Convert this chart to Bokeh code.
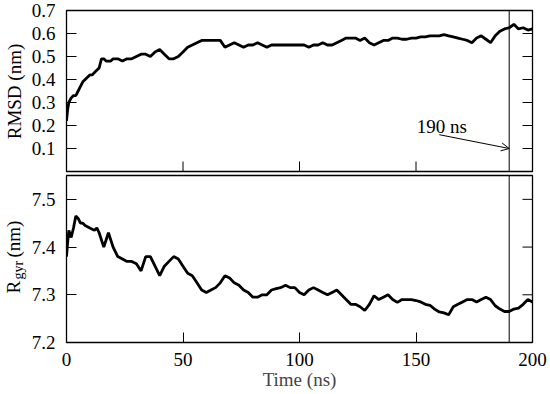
import math
from bokeh.plotting import figure
from bokeh.models import Range1d, FixedTicker, Span, Label, Arrow, OpenHead
from bokeh.layouts import column, row
from bokeh.embed import file_html
from bokeh.resources import INLINE

# ---------------- data ----------------
time_rmsd = [0, 0.5, 1, 2, 3, 4, 5, 6, 7, 8, 9, 10, 11, 12, 13, 14, 15, 16, 17, 18, 19, 20,
             22, 24, 26, 28, 30, 32, 34, 36, 38, 40, 42, 44, 46, 48, 50, 52, 54, 56, 58, 60,
             62, 64, 66, 68, 70, 72, 74, 76, 78, 80, 82, 84, 86, 88, 90, 92, 94, 96, 98, 100,
             102, 104, 106, 108, 110, 112, 114, 116, 118, 120, 122, 124, 126, 128, 130, 132,
             134, 136, 138, 140, 142, 144, 146, 148, 150, 152, 154, 156, 158, 160, 162, 164,
             166, 168, 170, 172, 174, 176, 178, 180, 182, 184, 186, 188, 190, 192, 194, 196,
             198, 200]
rmsd = [0.22, 0.27, 0.30, 0.32, 0.33, 0.33, 0.35, 0.37, 0.39, 0.40, 0.41, 0.42, 0.42, 0.43,
        0.44, 0.45, 0.49, 0.49, 0.48, 0.48, 0.48, 0.49,
        0.49, 0.48, 0.49, 0.49, 0.50, 0.51, 0.51, 0.50, 0.52, 0.53, 0.51, 0.49, 0.49, 0.50,
        0.52, 0.54, 0.55, 0.56, 0.57, 0.57,
        0.57, 0.57, 0.57, 0.54, 0.55, 0.56, 0.55, 0.54, 0.55, 0.55, 0.56, 0.55, 0.54, 0.55,
        0.55, 0.55, 0.55, 0.55, 0.55, 0.55,
        0.55, 0.54, 0.55, 0.55, 0.56, 0.55, 0.55, 0.56, 0.57, 0.58, 0.58, 0.58, 0.57, 0.58,
        0.56, 0.55,
        0.56, 0.57, 0.57, 0.58, 0.58, 0.575, 0.575, 0.58, 0.58, 0.585, 0.585, 0.59, 0.59,
        0.59, 0.595, 0.59,
        0.585, 0.58, 0.575, 0.57, 0.56, 0.58, 0.59, 0.575, 0.56, 0.59, 0.61, 0.62, 0.625,
        0.64, 0.62, 0.625,
        0.615, 0.62]

time_rgyr = [0, 0.5, 1, 2, 3, 4, 5, 6, 7, 8, 10, 12, 13, 14, 16, 18, 20, 22, 24, 26, 28, 30,
             32, 34, 36, 38, 40, 42, 44, 46, 48, 50, 52, 54, 56, 58, 60, 62, 64, 66, 68, 70,
             72, 74, 76, 78, 80, 82, 84, 86, 88, 90, 92, 94, 96, 98, 100, 102, 104, 106, 108,
             110, 112, 114, 116, 118, 120, 122, 124, 126, 128, 130, 132, 134, 136, 138, 140,
             142, 144, 146, 148, 150, 152, 154, 156, 158, 160, 162, 164, 166, 168, 170, 172,
             174, 176, 178, 180, 182, 184, 186, 188, 190, 192, 194, 196, 198, 200]
rgyr = [7.38, 7.41, 7.435, 7.42, 7.44, 7.465, 7.46, 7.45, 7.45, 7.445, 7.44, 7.435, 7.44,
        7.43, 7.40, 7.43, 7.40, 7.38, 7.375, 7.37, 7.37, 7.365,
        7.35, 7.38, 7.38, 7.36, 7.34, 7.36, 7.37, 7.38, 7.375, 7.36, 7.345, 7.34, 7.325,
        7.31, 7.305, 7.31, 7.315, 7.325, 7.34, 7.335,
        7.325, 7.32, 7.31, 7.305, 7.295, 7.295, 7.30, 7.30, 7.31, 7.313, 7.315, 7.32, 7.315,
        7.315, 7.305, 7.30, 7.31, 7.315, 7.31,
        7.305, 7.30, 7.305, 7.31, 7.30, 7.29, 7.28, 7.28, 7.275, 7.267, 7.28, 7.298, 7.29,
        7.295, 7.30, 7.29,
        7.284, 7.29, 7.29, 7.29, 7.288, 7.285, 7.28, 7.278, 7.27, 7.264, 7.262, 7.258, 7.275,
        7.28, 7.285, 7.29,
        7.29, 7.285, 7.29, 7.295, 7.29, 7.277, 7.27, 7.265, 7.265, 7.27, 7.272, 7.28, 7.29,
        7.285]

x_ticks = [0, 50, 100, 150, 200]
x_tick_labels = ["0", "50", "100", "150", "200"]
rmsd_ticks = [0.1, 0.2, 0.3, 0.4, 0.5, 0.6, 0.7]
rgyr_ticks = [7.2, 7.3, 7.4, 7.5]
x_lim = (0, 200)
rmsd_lim = (0, 0.7)
rgyr_lim = (7.2, 7.55)
marker_time = 190
marker_text = "190 ns"
rmsd_label = "RMSD (nm)"
rgyr_label_main, rgyr_label_sub, rgyr_label_unit = "R", "gyr", "(nm)"
x_label = "Time (ns)"

FONT = "Liberation Serif"
FS = "19px"
LABEL_W = 28
MAIN_W = 550 - LABEL_W
TICK_LEN = 10


def base_fig(height, ylim, yticks, mb_top, mb_bottom, with_xaxis):
    p = figure(width=MAIN_W, height=height, x_range=Range1d(*x_lim),
               y_range=Range1d(*ylim), output_backend="svg", toolbar_location=None,
               x_axis_location="below" if with_xaxis else None,
               min_border_left=65 - LABEL_W, min_border_right=18,
               min_border_top=mb_top, min_border_bottom=mb_bottom)
    p.grid.visible = False
    p.outline_line_color = "black"
    p.outline_line_width = 1.3
    p.outline_line_alpha = 1
    p.background_fill_color = "white"
    p.border_fill_color = "white"
    axes = list(p.yaxis) + (list(p.xaxis) if with_xaxis else [])
    for ax in axes:
        ax.axis_line_color = None
        ax.major_tick_in = TICK_LEN
        ax.major_tick_out = 0
        ax.major_tick_line_width = 1
        ax.minor_tick_line_color = None
        ax.major_label_text_font = FONT
        ax.major_label_text_font_size = FS
        ax.major_label_text_color = "black"
    p.yaxis.ticker = FixedTicker(ticks=yticks)
    p.yaxis.major_label_standoff = 11
    if with_xaxis:
        p.xaxis.ticker = FixedTicker(ticks=x_ticks)
        p.xaxis.major_label_overrides = {t: s for t, s in zip(x_ticks, x_tick_labels)}
    # mirrored inward ticks on the right edge
    p.ray(x=[x_lim[1]] * len(yticks), y=yticks, length=TICK_LEN, length_units="screen",
          angle=math.pi, line_color="black", line_width=1)
    p.add_layout(Span(location=marker_time, dimension="height", line_color="black",
                      line_width=1))
    return p


# ---------------- top panel: RMSD ----------------
p1 = base_fig(173, rmsd_lim, rmsd_ticks, 10, 2, False)
# inward ticks on the bottom edge of the upper panel
p1.ray(x=x_ticks, y=[rmsd_lim[0]] * len(x_ticks), length=TICK_LEN, length_units="screen",
       angle=math.pi / 2, line_color="black", line_width=1)
p1.line(time_rmsd, rmsd, line_color="black", line_width=2.8)
p1.add_layout(Label(x=150.3, y=0.194, text=marker_text, text_align="left",
                    text_baseline="alphabetic", text_font=FONT, text_font_size=FS,
                    text_color="black"))
p1.add_layout(Arrow(x_start=160, y_start=0.16, x_end=marker_time, y_end=0.1,
                    line_width=1, line_color="black",
                    end=OpenHead(size=8, line_width=1, line_color="black")))

# ---------------- bottom panel: Rgyr ----------------
p2 = base_fig(221, rgyr_lim, rgyr_ticks, 2, 52, True)
p2.xaxis.major_label_standoff = 10
p2.xaxis.axis_label = x_label
p2.xaxis.axis_label_text_font = FONT
p2.xaxis.axis_label_text_font_size = FS
p2.xaxis.axis_label_text_font_style = "normal"
p2.xaxis.axis_label_standoff = 0
p2.line(time_rgyr, rgyr, line_color="black", line_width=2.8)

# ---------------- strip holding the rotated y-axis titles ----------------
H = 394
pl = figure(width=LABEL_W, height=H, x_range=Range1d(0, LABEL_W), y_range=Range1d(0, H),
            output_backend="svg", toolbar_location=None, x_axis_location=None,
            y_axis_location=None, min_border=0)
pl.grid.visible = False
pl.outline_line_color = None
pl.background_fill_color = "white"
pl.border_fill_color = "white"
rot = math.pi / 2
pl.text(x=[13.5], y=[H - 91], text=[rmsd_label], angle=rot, text_align="center",
        text_baseline="middle", text_font=FONT, text_font_size=FS, text_color="black")
pl.text(x=[12.5], y=[H - 293], text=[rgyr_label_main], angle=rot, text_align="left",
        text_baseline="middle", text_font=FONT, text_font_size=FS, text_color="black")
pl.text(x=[17.5], y=[H - 279], text=[rgyr_label_sub], angle=rot, text_align="left",
        text_baseline="middle", text_font=FONT, text_font_size="14px",
        text_color="black")
pl.text(x=[12.5], y=[H - 257], text=[rgyr_label_unit], angle=rot, text_align="left",
        text_baseline="middle", text_font=FONT, text_font_size=FS, text_color="black")

layout = row(pl, column(p1, p2, spacing=0), spacing=0)
open("out.html", "w").write(file_html(layout, INLINE))
